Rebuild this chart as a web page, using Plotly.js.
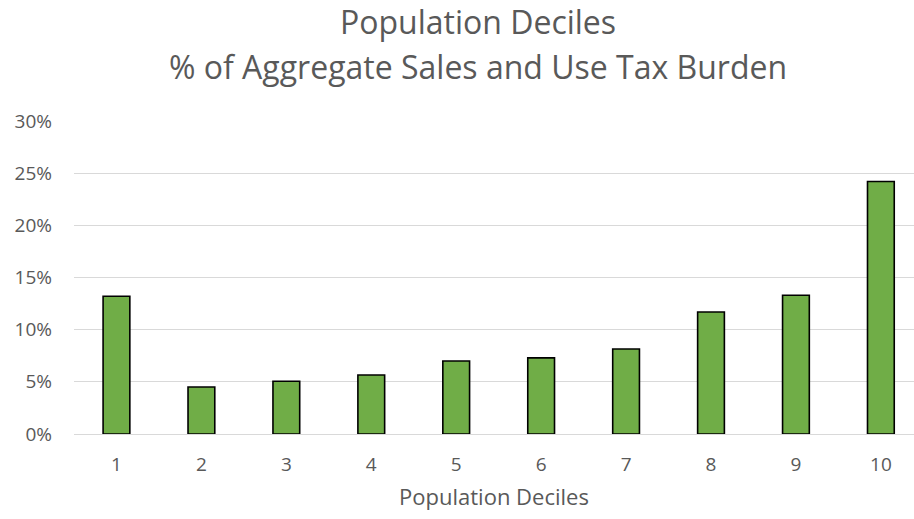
<!DOCTYPE html>
<html>
<head>
<meta charset="utf-8">
<script src="https://cdn.plot.ly/plotly-3.0.1.min.js"></script>
<style>html,body{margin:0;padding:0;background:#fff;}#chart{width:914px;height:519px;}</style>
</head>
<body>
<div id="chart"></div>
<script>
const deciles = ["1","2","3","4","5","6","7","8","9","10"];
const taxShare = [13.2, 4.5, 5.05, 5.65, 7.0, 7.3, 8.15, 11.7, 13.3, 24.2];
const yTicks = [0, 5, 10, 15, 20, 25, 30];
const yTickLabels = ["0%", "5%", "10%", "15%", "20%", "25%", "30%"];
const titleLine1 = "Population Deciles";
const titleLine2 = "% of Aggregate Sales and Use Tax Burden";
const xAxisTitle = "Population Deciles";

const FONT = "'Open Sans', Lato, sans-serif";
const GREY = "#595959";

const trace = {
  type: "bar",
  x: deciles.map((d, i) => i + 1),
  y: taxShare,
  width: 0.315,
  marker: { color: "#70AD47", line: { color: "#000000", width: 1.6 } },
  hoverinfo: "skip"
};

const layout = {
  width: 914, height: 519,
  margin: { l: 74, r: 0, t: 121, b: 85 },
  paper_bgcolor: "#fff", plot_bgcolor: "#fff",
  showlegend: false,
  title: {
    text: titleLine1,
    font: { family: FONT, size: 32, color: GREY },
    x: 0.523, xref: "container", xanchor: "center",
    y: 1 - 23 / 519, yref: "container", yanchor: "middle"
  },
  annotations: [{
    text: titleLine2,
    xref: "paper", yref: "paper",
    x: (477.5 - 74) / 840, y: (434 - 66) / 313,
    xanchor: "center", yanchor: "middle",
    showarrow: false,
    font: { family: FONT, size: 32, color: GREY }
  }],
  xaxis: {
    range: [0.5, 10.39],
    tickmode: "array",
    tickvals: deciles.map((d, i) => i + 1),
    ticktext: deciles,
    showgrid: false, zeroline: false,
    showline: false, ticks: "",
    tickfont: { family: FONT, size: 19, color: GREY },
    ticklabelstandoff: 17,
    title: { text: xAxisTitle, font: { family: FONT, size: 22, color: GREY }, standoff: 13 }
  },
  yaxis: {
    range: [0, 30],
    tickmode: "array",
    tickvals: yTicks,
    ticktext: yTickLabels,
    showgrid: true, gridcolor: "#D9D9D9", gridwidth: 1,
    zeroline: true, zerolinecolor: "#D9D9D9", zerolinewidth: 1,
    showline: false, ticks: "",
    tickfont: { family: FONT, size: 19, color: GREY },
    ticklabelstandoff: 21
  },
  bargap: 0.685
};

Plotly.newPlot("chart", [trace], layout, { displayModeBar: false, staticPlot: true });
</script>
</body>
</html>
